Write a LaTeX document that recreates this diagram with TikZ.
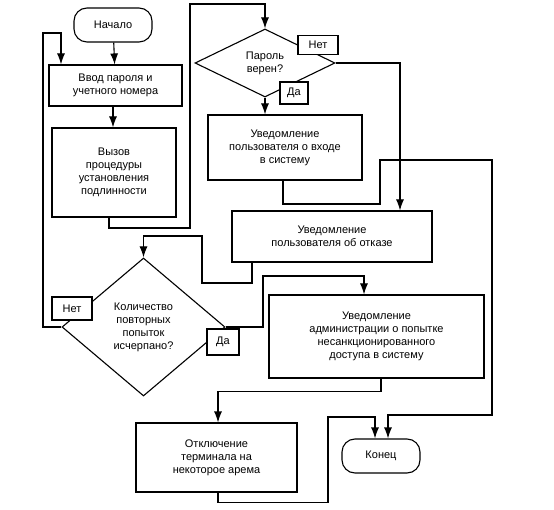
\documentclass[tikz,border=0pt]{standalone}
\usepackage{fontspec}
\setmainfont{Liberation Sans}
\usetikzlibrary{shapes.geometric,arrows.meta}

\begin{document}
\begin{tikzpicture}[x=1pt,y=-1pt,line width=1.1pt,
    font=\fontsize{11}{13}\selectfont,
    >={Latex[length=11pt,width=8pt]},
    block/.style={draw,align=center,inner sep=2pt},
    term/.style={draw,rounded corners=13pt,minimum width=78pt,minimum height=34pt},
    cond/.style={draw,diamond,align=center,inner sep=0pt},
    tag/.style={draw,fill=white,inner sep=0pt}]
    \useasboundingbox[fill=white] (0,0) rectangle (554,510);

    \node[term] (start) at (113,25) {Начало};
    \node[block,minimum width=133pt,minimum height=41pt] (input) at (115.5,85.5) {Ввод пароля и\\учетного номера};
    \node[block,minimum width=124pt,minimum height=89pt] (auth) at (114,172.5) {Вызов\\процедуры\\установления\\подлинности};
    \node[cond,minimum width=140pt,minimum height=68pt] (check) at (265,63) {Пароль\\верен?};
    \node[block,minimum width=154pt,minimum height=65pt] (okmsg) at (285,147.5) {Уведомление\\пользователя о входе\\в систему};
    \node[block,minimum width=200pt,minimum height=51pt] (denied) at (332,236.5) {Уведомление\\пользователя об отказе};
    \node[cond,minimum width=163pt,minimum height=138pt] (retry) at (143.5,327) {Количество\\повторных\\попыток\\исчерпано?};
    \node[block,minimum width=215pt,minimum height=83pt] (admin) at (376.5,336.5) {Уведомление\\администрации о попытке\\несанкционированного\\доступа в систему};
    \node[block,minimum width=161pt,minimum height=69pt] (lock) at (216.5,457.5) {Отключение\\терминала на\\некоторое арема};
    \node[term] (end) at (381,456) {Конец};

    % answers
    \node[tag,minimum width=40pt,minimum height=19pt] (checkno) at (318,45) {Нет};
    \node[tag,minimum width=28pt,minimum height=22pt] (checkyes) at (294,93) {Да};
    \node[tag,minimum width=40pt,minimum height=23pt] (retryno) at (72,308.5) {Нет};
    \node[tag,minimum width=32pt,minimum height=26pt] (retryyes) at (223,342) {Да};

    \draw[->] (start) -- (input);
    \draw[->] (input.south -| start) -- (auth.north -| start);
    \draw[->] ([xshift=-5pt]auth.south) |- (190,228) -- (190,4) -| (check.north);
    \draw[->] (check.east) -| ([xshift=68pt]denied.north);
    \draw[->] (check.south) -- (check.south |- okmsg.north);
    \draw[->] ([xshift=-2pt]okmsg.south) |- (380,204) -- (380,160) -| (492,415) -| ([xshift=7pt]end.north);
    \draw[->] ([xshift=-80pt]denied.south) |- (202,283) -- (202,236) -| (retry.north);
    \draw[->] (retry.west) -| (43,33) -| ([xshift=-54.5pt]input.north);
    \draw[->] (retry.east) -| (263,276) -| ([xshift=-12.5pt]admin.north);
    \draw[->] ([xshift=4.5pt]admin.south) -- ++(0,13) -| ([xshift=1.5pt]lock.north);
    \draw[->] ([xshift=1.5pt]lock.south) -- ++(0,10) -| (328,417) -| ([xshift=-6pt]end.north);
\end{tikzpicture}
\end{document}
